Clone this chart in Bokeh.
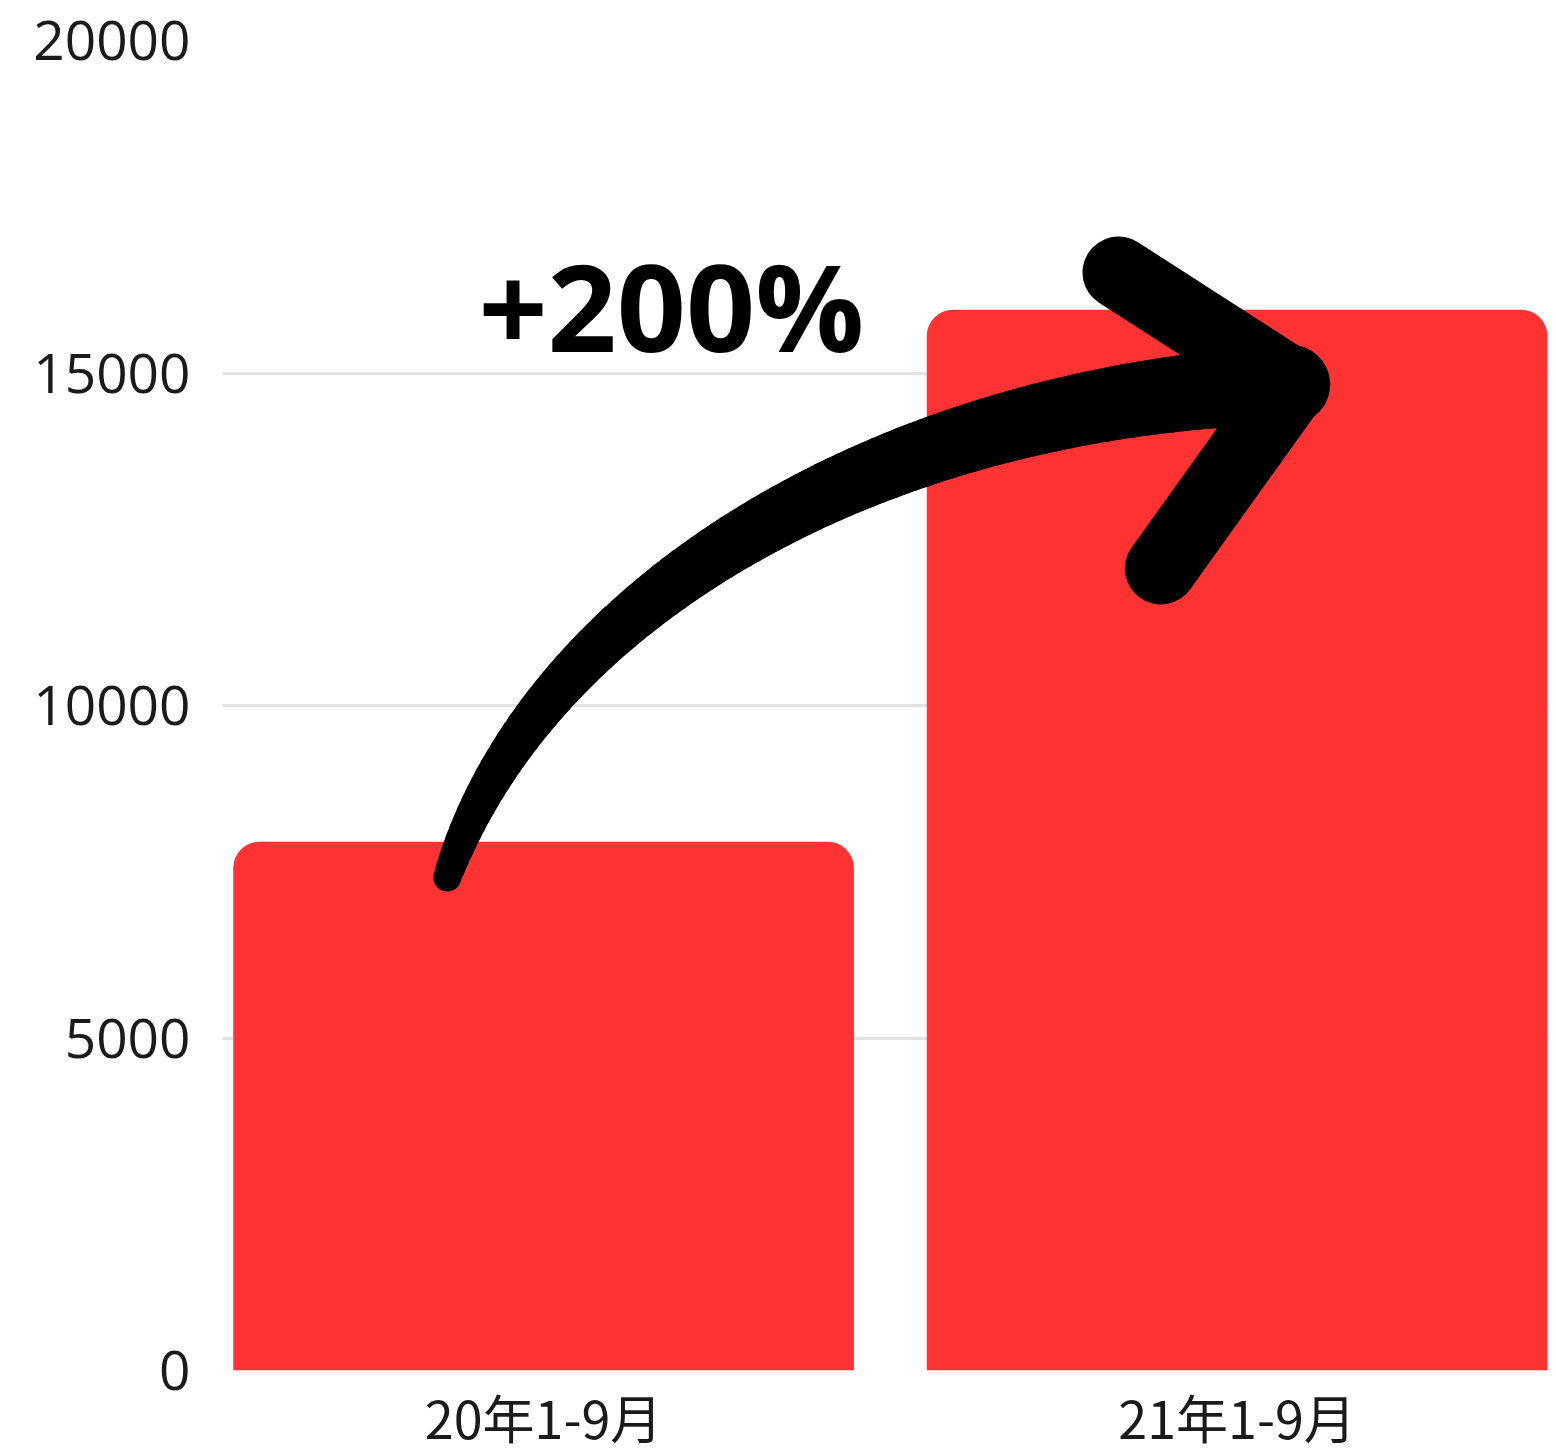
import numpy as np
from bokeh.plotting import figure
from bokeh.models import ColumnDataSource, Range1d, FixedTicker
from bokeh.core.properties import value
from bokeh.embed import file_html
from bokeh.resources import INLINE

# ---- data ----
categories = ["20年1-9月", "21年1-9月"]
values = [7950, 15950]
y_ticks = [0, 5000, 10000, 15000, 20000]
change_label = "+200%"

# annotation arrow (data units): cubic bezier control points of the shaft, and the head polyline
arrow_ctrl_x = [0.361, 0.496, 0.986, 1.577]
arrow_ctrl_y = [7413, 11579, 14586, 14827]
head_x = [1.329, 1.580, 1.390]
head_y = [16511, 14827, 12060]
label_x = 0.406
label_y = 16030

BAR_COLOR = "#FF3333"

x_pos = [i + 0.5 for i in range(len(categories))]
src = ColumnDataSource(dict(x=x_pos, top=values, cat=categories))

p = figure(width=1556, height=1453, output_backend="svg", toolbar_location=None,
           x_range=Range1d(0.037, 1.949), y_range=Range1d(0, 20000),
           min_border_left=222, min_border_top=40, min_border_right=8, min_border_bottom=80)
p.frame_width = 1326
p.frame_height = 1330
p.outline_line_color = None
p.background_fill_color = "white"
p.border_fill_color = "white"

# grid
p.xgrid.grid_line_color = None
p.ygrid.grid_line_color = "#e2e2e2"
p.ygrid.grid_line_width = 3
p.ygrid.ticker = FixedTicker(ticks=y_ticks)

# axes
p.yaxis.ticker = FixedTicker(ticks=y_ticks)
p.xaxis.ticker = FixedTicker(ticks=x_pos)
p.xaxis.major_label_overrides = {x: c for x, c in zip(x_pos, categories)}
for ax in (p.xaxis, p.yaxis):
    ax.axis_line_color = None
    ax.major_tick_line_color = None
    ax.minor_tick_line_color = None
    ax.major_tick_in = 0
    ax.major_tick_out = 0
    ax.major_label_text_color = "#1a1a1a"
p.yaxis.major_label_text_font = "Open Sans"
p.yaxis.major_label_text_font_size = "55px"
p.yaxis.major_label_standoff = 32
p.xaxis.major_label_text_font = "Noto Sans CJK SC"
p.xaxis.major_label_text_font_size = "52px"
p.xaxis.major_label_standoff = 8

# bars
p.vbar(x="x", top="top", bottom=0, width=0.895, source=src,
       fill_color=BAR_COLOR, line_color=None, border_radius=(26, 26, 0, 0))

# arrow shaft: tapered cubic bezier drawn as short round-capped segments
t = np.linspace(0, 1, 90)
cx = np.array(arrow_ctrl_x); cy = np.array(arrow_ctrl_y)
bx = ((1 - t) ** 3) * cx[0] + 3 * ((1 - t) ** 2) * t * cx[1] + 3 * (1 - t) * t ** 2 * cx[2] + t ** 3 * cx[3]
by = ((1 - t) ** 3) * cy[0] + 3 * ((1 - t) ** 2) * t * cy[1] + 3 * (1 - t) * t ** 2 * cy[2] + t ** 3 * cy[3]
seg_xs = [[bx[i], bx[i + 1]] for i in range(len(t) - 1)]
seg_ys = [[by[i], by[i + 1]] for i in range(len(t) - 1)]
widths = list(28 + 52 * (t[:-1] ** 0.8))
p.multi_line(xs=seg_xs, ys=seg_ys, line_width=widths, line_color="black",
             line_cap="round", line_join="round")
# arrow head
p.line(head_x, head_y, line_width=72, line_color="black", line_cap="round", line_join="round")

# label
p.text(x=[label_x], y=[label_y], text=[change_label], text_font=value("Open Sans"),
       text_font_style="bold", text_font_size="121px", text_color="black",
       text_baseline="alphabetic", text_align="left")

open("out.html", "w").write(file_html(p, INLINE))
